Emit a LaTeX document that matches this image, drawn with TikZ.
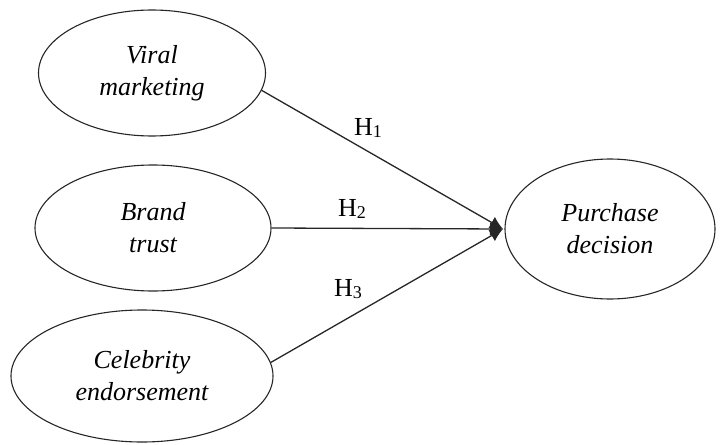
\documentclass[tikz,border=0pt]{standalone}
\usepackage{fontspec}
\setmainfont{Liberation Serif}
\usetikzlibrary{shapes.geometric,arrows.meta}
\begin{document}
\begin{tikzpicture}[x=1pt,y=-1pt,
  construct/.style={draw=black!85,line width=1.1pt,ellipse,inner sep=0pt,align=center,
    font=\fontsize{26}{32}\selectfont\itshape},
  path/.style={draw=black!85,line width=1.3pt,-{Latex[length=13pt,width=13pt]}},
  hyp/.style={font=\fontsize{26}{28}\selectfont}]
\useasboundingbox (0,0) rectangle (722,444);
\node[construct,minimum width=227pt,minimum height=126pt] (V) at (152,73) {Viral\\marketing};
\node[construct,minimum width=236pt,minimum height=126pt] (B) at (153,228) {Brand\\trust};
\node[construct,minimum width=262pt,minimum height=132pt] (C) at (142,376) {Celebrity\\endorsement};
\node[construct,minimum width=210pt,minimum height=140pt] (P) at (610,229) {Purchase\\decision};
\coordinate (T) at (503,229);
\draw[path] (V.-9) -- (T);
\draw[path] (B.east) -- (T);
\draw[path] (C.6) -- (T);
\node[hyp] (H1) at (368,128) {H\raisebox{-2pt}{\fontsize{18}{18}\selectfont 1}};
\node[hyp] (H2) at (352,209) {H\raisebox{-2pt}{\fontsize{18}{18}\selectfont 2}};
\node[hyp] (H3) at (348,289) {H\raisebox{-2pt}{\fontsize{18}{18}\selectfont 3}};
\end{tikzpicture}
\end{document}
